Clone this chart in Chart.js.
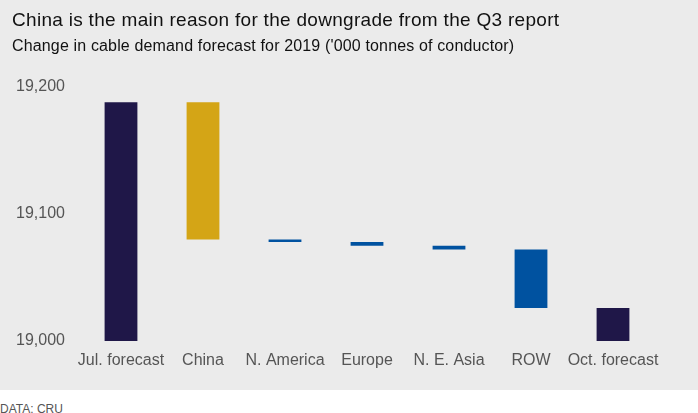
<!DOCTYPE html>
<html>
<head>
<meta charset="utf-8">
<script src="https://cdn.jsdelivr.net/npm/chart.js@4"></script>
<style>
  html, body { margin: 0; padding: 0; background: #ffffff; width: 698px; height: 413px; overflow: hidden; }
  #bg { position: absolute; left: 0; top: 0; width: 698px; height: 390px; background: #ebebeb; }
  #chartWrap { position: absolute; left: 0; top: 0; width: 698px; height: 390px; }
  .txt { position: absolute; font-family: "Liberation Sans", Arial, sans-serif; white-space: nowrap; }
  #title { left: 12px; top: 10px; font-size: 19px; line-height: 19px; letter-spacing: 0.3px; color: #111111; }
  #subtitle { left: 12px; top: 38px; font-size: 16px; line-height: 16px; letter-spacing: 0.15px; color: #111111; }
  #source { left: 0px; top: 403px; font-size: 12px; line-height: 12px; color: #555555; }
</style>
</head>
<body>
<div id="bg"></div>
<div id="chartWrap"><canvas id="c" width="698" height="390"></canvas></div>
<div class="txt" id="title">China is the main reason for the downgrade from the Q3 report</div>
<div class="txt" id="subtitle">Change in cable demand forecast for 2019 ('000 tonnes of conductor)</div>
<div class="txt" id="source">DATA: CRU</div>
<script>
const categories = ["Jul. forecast", "China", "N. America", "Europe", "N. E. Asia", "ROW", "Oct. forecast"];
const barLow  = [19000, 19080, 19078, 19075, 19072, 19026, 19000];
const barHigh = [19188, 19188, 19080, 19078, 19075, 19072, 19026];
const barColors = ["#1f1748", "#d4a516", "#0052a0", "#0052a0", "#0052a0", "#0052a0", "#1f1748"];
const yTicks = [19000, 19100, 19200];

const floating = categories.map((c, i) => [barLow[i], barHigh[i]]);

new Chart(document.getElementById("c"), {
  type: "bar",
  data: {
    labels: categories,
    datasets: [{
      data: floating,
      backgroundColor: barColors,
      borderWidth: 0,
      barPercentage: 0.4,
      categoryPercentage: 1.0
    }]
  },
  options: {
    responsive: false,
    animation: false,
    layout: { padding: { top: 87, right: 44, bottom: 0, left: 0 } },
    plugins: { legend: { display: false }, tooltip: { enabled: false } },
    scales: {
      x: {
        grid: { display: false },
        border: { display: false },
        ticks: {
          color: "#555555",
          padding: 2,
          maxRotation: 0,
          autoSkip: false,
          font: { family: "'Liberation Sans', Arial, sans-serif", size: 16 }
        },
        afterFit: (s) => { s.height = 49; }
      },
      y: {
        min: 19000,
        max: 19200,
        grid: { display: false },
        border: { display: false },
        afterBuildTicks: (s) => { s.ticks = yTicks.map(v => ({ value: v })); },
        ticks: {
          color: "#555555",
          padding: 7,
          callback: (v) => v.toLocaleString("en-US"),
          font: { family: "'Liberation Sans', Arial, sans-serif", size: 16 }
        },
        afterFit: (s) => { s.width = 80; }
      }
    }
  }
});
</script>
</body>
</html>
